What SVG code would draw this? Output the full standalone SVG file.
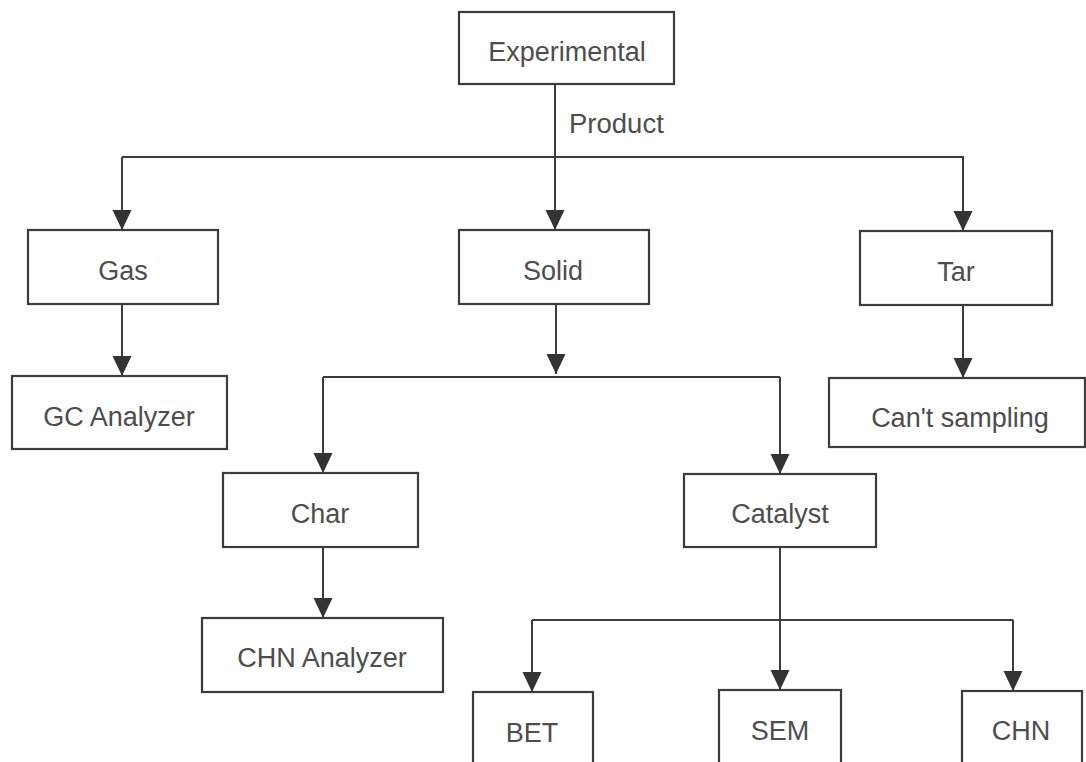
<svg xmlns="http://www.w3.org/2000/svg" width="1086" height="762" viewBox="0 0 1086 762">
<style>
.box{fill:#fff;stroke:#3c3c3c;stroke-width:2.2}
.lbl{font-family:"Liberation Sans",Arial,sans-serif;font-size:27px;fill:#4d4d4d;text-anchor:middle}
.edge{fill:none;stroke:#3c3c3c;stroke-width:2}
</style>
<defs>
<marker id="arr" markerUnits="userSpaceOnUse" markerWidth="20" markerHeight="20" viewBox="0 0 20 20" refX="20" refY="10" orient="auto">
<path d="M0,0.5 L20,10 L0,19.5 z" fill="#333"/>
</marker>
</defs>
<rect width="1086" height="762" fill="#fff"/>
<g id="connectors">
<path class="edge" d="M555,84 V157"/>
<path class="edge" d="M122,157 H964"/>
<path class="edge" d="M122,157 V230" marker-end="url(#arr)"/>
<path class="edge" d="M555,157 V230" marker-end="url(#arr)"/>
<path class="edge" d="M963,157 V231" marker-end="url(#arr)"/>
<path class="edge" d="M122,304 V376" marker-end="url(#arr)"/>
<path class="edge" d="M556,304 V374" marker-end="url(#arr)"/>
<path class="edge" d="M323,377 H780"/>
<path class="edge" d="M323,377 V473" marker-end="url(#arr)"/>
<path class="edge" d="M780,377 V474" marker-end="url(#arr)"/>
<path class="edge" d="M963,305 V378" marker-end="url(#arr)"/>
<path class="edge" d="M323,547 V618" marker-end="url(#arr)"/>
<path class="edge" d="M780,547 V690" marker-end="url(#arr)"/>
<path class="edge" d="M532,620 H1013"/>
<path class="edge" d="M532,620 V692" marker-end="url(#arr)"/>
<path class="edge" d="M1013,620 V691" marker-end="url(#arr)"/>
<text class="lbl" x="569" y="133" style="text-anchor:start;font-size:27.5px">Product</text>
</g>
<g id="experimental"><rect class="box" x="459" y="12" width="215" height="72"/><text class="lbl" x="567" y="61">Experimental</text></g>
<g id="gas"><rect class="box" x="28" y="230" width="190" height="74"/><text class="lbl" x="123" y="280">Gas</text></g>
<g id="solid"><rect class="box" x="459" y="230" width="190" height="74"/><text class="lbl" x="553" y="280">Solid</text></g>
<g id="tar"><rect class="box" x="860" y="231" width="192" height="74"/><text class="lbl" x="956" y="281">Tar</text></g>
<g id="gc-analyzer"><rect class="box" x="12" y="376" width="215" height="73"/><text class="lbl" x="119" y="426">GC Analyzer</text></g>
<g id="cant-sampling"><rect class="box" x="829" y="378" width="256" height="69"/><text class="lbl" x="960" y="427">Can't sampling</text></g>
<g id="char"><rect class="box" x="223" y="473" width="195" height="74"/><text class="lbl" x="320" y="523">Char</text></g>
<g id="catalyst"><rect class="box" x="684" y="474" width="192" height="73"/><text class="lbl" x="780" y="523">Catalyst</text></g>
<g id="chn-analyzer"><rect class="box" x="202" y="618" width="241" height="74"/><text class="lbl" x="322" y="667">CHN Analyzer</text></g>
<g id="bet"><rect class="box" x="473" y="692" width="120" height="80"/><text class="lbl" x="532" y="742">BET</text></g>
<g id="sem"><rect class="box" x="719" y="690" width="122" height="82"/><text class="lbl" x="780" y="740">SEM</text></g>
<g id="chn"><rect class="box" x="962" y="691" width="120" height="81"/><text class="lbl" x="1021" y="740">CHN</text></g>
</svg>
